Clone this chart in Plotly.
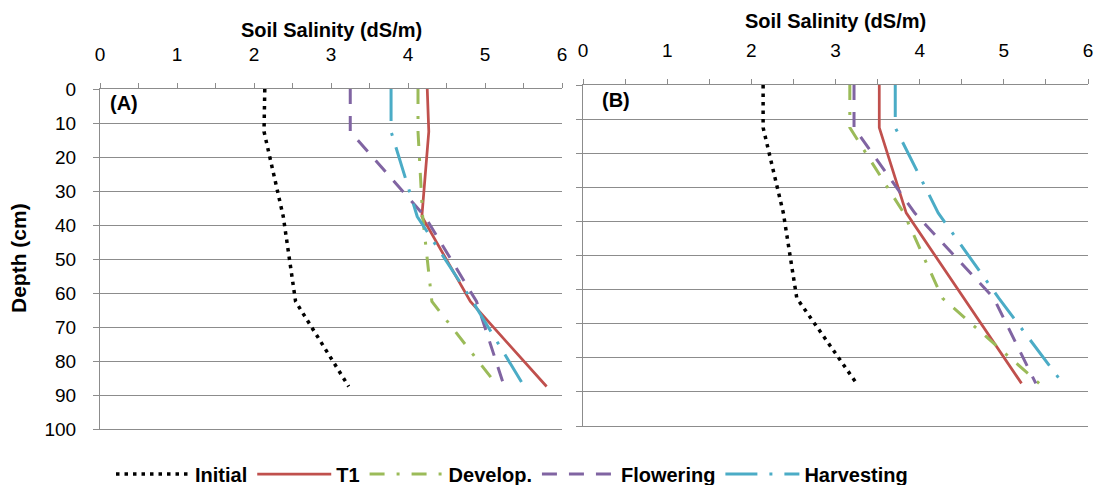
import plotly.graph_objects as go

# Sampling depths (cm): surface value and layer midpoints
depth = [0, 12.5, 37.5, 62.5, 87.5]

# Panel (A) soil salinity, dS/m
a_initial = [2.14, 2.13, 2.38, 2.54, 3.23]
a_t1 = [4.25, 4.27, 4.18, 4.81, 5.80]
a_develop = [4.13, 4.13, 4.19, 4.31, 5.17]
a_flowering = [3.25, 3.25, 4.22, 4.89, 5.25]
a_harvesting = [3.78, 3.78, 4.12, 4.84, 5.51]

# Panel (B) soil salinity, dS/m
b_initial = [2.14, 2.14, 2.38, 2.54, 3.25]
b_t1 = [3.52, 3.52, 3.84, 4.52, 5.21]
b_develop = [3.17, 3.17, 3.81, 4.27, 5.42]
b_flowering = [3.22, 3.22, 3.94, 4.88, 5.38]
b_harvesting = [3.71, 3.71, 4.22, 4.94, 5.70]

series_names = ["Initial", "T1", "Develop.", "Flowering", "Harvesting"]
x_ticks = [0, 1, 2, 3, 4, 5, 6]
y_ticks = [0, 10, 20, 30, 40, 50, 60, 70, 80, 90, 100]

styles = {
    "Initial": dict(color="#000000", width=3.5, dash="3.5px,5px"),
    "T1": dict(color="#C0504D", width=2.75),
    "Develop.": dict(color="#9BBB59", width=3, dash="15px,12px,3px,12px"),
    "Flowering": dict(color="#8064A2", width=3, dash="15px,12px"),
    "Harvesting": dict(color="#4BACC6", width=3, dash="32px,12px,3px,12px"),
}

W, H = 1097, 485
GRID = "#8C8C8C"
FONT = "Liberation Sans, Arial, sans-serif"

fig = go.Figure()

panels = [
    ("x", "y", [a_initial, a_t1, a_develop, a_flowering, a_harvesting], True),
    ("x2", "y2", [b_initial, b_t1, b_develop, b_flowering, b_harvesting], False),
]
for xa, ya, values, show in panels:
    for name, vals in zip(series_names, values):
        fig.add_trace(go.Scatter(
            x=vals, y=depth, mode="lines", name=name,
            line=styles[name], xaxis=xa, yaxis=ya,
            showlegend=show, legendgroup=name,
        ))

tick_font = dict(family=FONT, size=19, color="#000000")

def xaxis_cfg(x0, x1, anchor):
    return dict(
        domain=[x0 / W, x1 / W], range=[0, 6], side="top", anchor=anchor,
        tickmode="array", tickvals=x_ticks, ticks="outside", ticklen=5,
        tickcolor=GRID, tickwidth=1, showline=True, mirror=True,
        linecolor=GRID, linewidth=1, automargin=False,
        showgrid=False, zeroline=False, ticklabelstandoff=14,
        tickfont=tick_font,
        minor=dict(dtick=0.5, ticks="outside", ticklen=5, tickcolor=GRID, showgrid=False),
        fixedrange=True,
    )

def yaxis_cfg(top, bottom, anchor, labels):
    return dict(
        domain=[1 - bottom / H, 1 - top / H], range=[100, 0], anchor=anchor,
        tickmode="array", tickvals=y_ticks, ticks="outside", ticklen=6,
        tickcolor=GRID, tickwidth=1, showline=True, linecolor=GRID, linewidth=1,
        showgrid=True, gridcolor=GRID, gridwidth=1, zeroline=False,
        showticklabels=labels, ticklabelstandoff=13, automargin=False,
        tickfont=tick_font,
        fixedrange=True,
    )

fig.update_layout(
    width=W, height=H,
    margin=dict(l=0, r=0, t=0, b=0, autoexpand=False),
    paper_bgcolor="#FFFFFF", plot_bgcolor="#FFFFFF",
    xaxis=xaxis_cfg(100, 562, "y"),
    yaxis=yaxis_cfg(89, 429, "x", True),
    xaxis2=xaxis_cfg(583, 1088, "y2"),
    yaxis2=yaxis_cfg(85, 426, "x2", False),
    showlegend=True,
    legend=dict(
        orientation="h", x=512 / W, xanchor="center", y=11 / H, yanchor="middle",
        font=dict(family=FONT, size=20, color="#000000", weight="bold"),
        bgcolor="rgba(0,0,0,0)", itemwidth=74, tracegroupgap=0,
    ),
)

title_font = dict(family=FONT, size=20, color="#000000", weight="bold")
fig.add_annotation(text="Soil Salinity (dS/m)", xref="paper", yref="paper",
                   x=331 / W, y=1 - 30 / H, showarrow=False,
                   xanchor="center", yanchor="middle", font=title_font)
fig.add_annotation(text="Soil Salinity (dS/m)", xref="paper", yref="paper",
                   x=835 / W, y=1 - 21 / H, showarrow=False,
                   xanchor="center", yanchor="middle", font=title_font)
fig.add_annotation(text="Depth (cm)", xref="paper", yref="paper",
                   x=18 / W, y=1 - 258 / H, showarrow=False, textangle=-90,
                   xanchor="center", yanchor="middle",
                   font=dict(family=FONT, size=21, color="#000000", weight="bold"))
fig.add_annotation(text="(A)", xref="x", yref="y", x=0.1, y=4,
                   showarrow=False, xanchor="left", yanchor="middle", font=title_font)
fig.add_annotation(text="(B)", xref="x2", yref="y2", x=0.2, y=4.5,
                   showarrow=False, xanchor="left", yanchor="middle", font=title_font)

fig.write_html("out.html")
